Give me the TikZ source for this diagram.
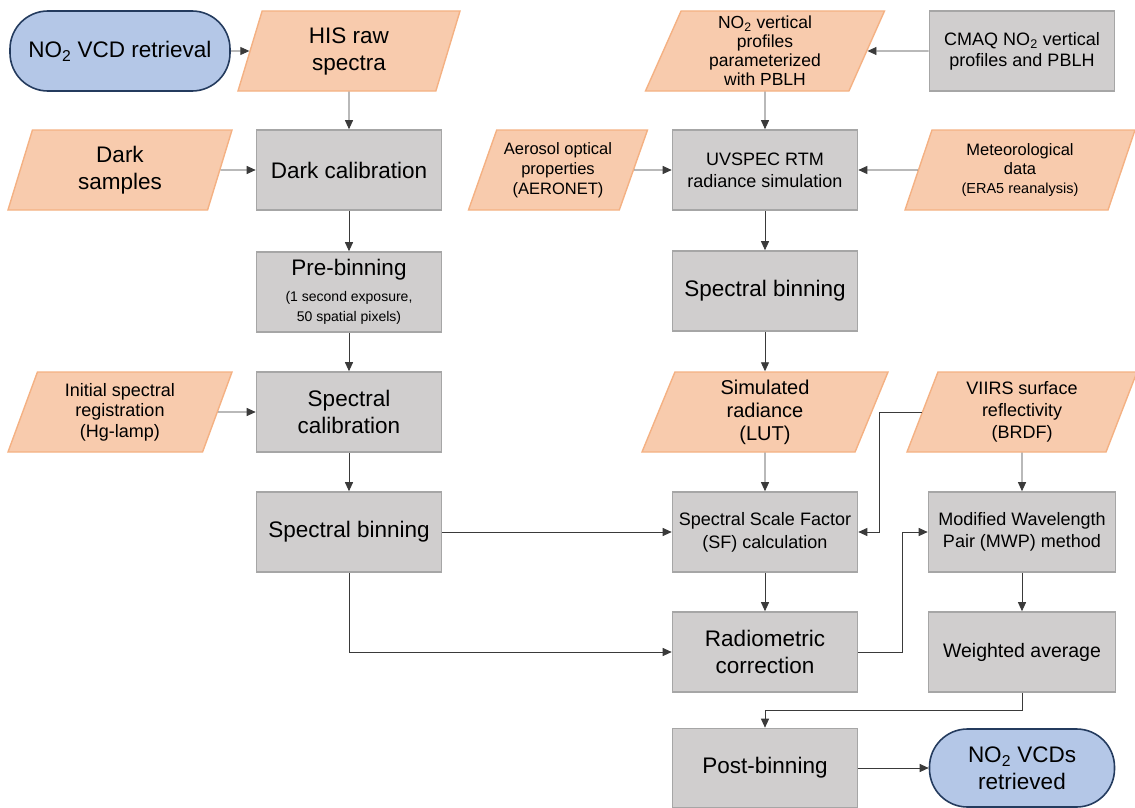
\documentclass[tikz,border=0pt]{standalone}
\usepackage{fontspec}
\setmainfont{Liberation Sans}
\usepackage{tikz}
\usetikzlibrary{shapes.geometric,arrows.meta}
\definecolor{iofill}{HTML}{F8CBAD}
\definecolor{ioline}{HTML}{F4B183}
\definecolor{boxfill}{HTML}{D0CECE}
\definecolor{boxline}{HTML}{A6A6A6}
\definecolor{termfill}{HTML}{B4C7E7}
\definecolor{termline}{HTML}{243B5E}
\definecolor{linecol}{HTML}{3A3A3A}
\newcommand{\fbig}{\fontsize{22.5}{27}\selectfont}
\newcommand{\fmid}{\fontsize{18}{22}\selectfont}

\begin{document}
\begin{tikzpicture}[x=1pt,y=-1pt,
  box/.style={rectangle, draw=boxline, fill=boxfill, line width=1.6pt, minimum width=185pt, minimum height=80pt, align=center, inner sep=2pt, font=\fbig},
  io/.style={trapezium, trapezium left angle=63, trapezium right angle=117, trapezium stretches body, draw=ioline, fill=iofill, line width=1.4pt, minimum height=80pt, align=center, inner sep=0pt, font=\fbig},
  term/.style={rectangle, rounded corners=38pt, draw=termline, fill=termfill, line width=1.6pt, minimum height=80pt, align=center, font=\fbig},
  arr/.style={-{Triangle[length=9pt,width=8pt]}, line width=0.9pt, draw=linecol}]
\useasboundingbox (0,0) rectangle (1135,808);
%LEFT
\node[term, minimum width=220pt] (start) at (120,51) {NO\textsubscript{2} VCD retrieval};
\node[io, minimum width=222pt] (his) at (349,51) {HIS raw\\spectra};
\node[box] (dark) at (349,170) {Dark calibration};
\node[io, minimum width=224pt] (darks) at (120,170) {Dark\\samples};
\node[box] (prebin) at (349,292) {Pre-binning\\[-1pt]{\fontsize{14}{17}\selectfont (1 second exposure,}\\[-7pt]{\fontsize{14}{17}\selectfont 50 spatial pixels)}};
\node[box] (speccal) at (349,412) {Spectral\\calibration};
\node[io, minimum width=224pt, font=\fontsize{18}{20.5}\selectfont] (hglamp) at (120,412) {Initial spectral\\registration\\(Hg-lamp)};
\node[box] (binl) at (349,532) {Spectral binning};
%RIGHT
\node[io, minimum width=239pt, font=\fontsize{17.5}{19}\selectfont] (prof) at (765,51) {NO\textsubscript{2} vertical\\profiles\\parameterized\\with PBLH};
\node[box, font=\fontsize{18}{21}\selectfont] (cmaq) at (1022,51) {CMAQ NO\textsubscript{2} vertical\\profiles and PBLH};
\node[box, font=\fmid] (uvspec) at (765,170) {UVSPEC RTM\\radiance simulation};
\node[io, minimum width=179pt, font=\fontsize{16.5}{20}\selectfont] (aero) at (558,170) {Aerosol optical\\properties\\(AERONET)};
\node[io, minimum width=230pt, font=\fontsize{16.5}{19}\selectfont] (meteo) at (1020,170) {Meteorological\\data\\{\fontsize{14.5}{17}\selectfont (ERA5 reanalysis)}};
\node[box] (binr) at (765,291) {Spectral binning};
\node[io, minimum width=246pt, font=\fontsize{20}{23}\selectfont] (simrad) at (765,412) {Simulated\\radiance\\(LUT)};
\node[io, minimum width=230pt, font=\fontsize{18}{22}\selectfont] (viirs) at (1022,412) {VIIRS surface\\reflectivity\\(BRDF)};
\node[box, font=\fontsize{18}{23}\selectfont] (sf) at (765,532) {Spectral Scale Factor\\(SF) calculation};
\node[box, minimum width=187pt, font=\fontsize{18}{22}\selectfont] (mwp) at (1022,532) {Modified Wavelength\\Pair (MWP) method};
\node[box] (radio) at (765,652) {Radiometric\\correction};
\node[box, minimum width=187pt, font=\fontsize{19.5}{23}\selectfont] (wavg) at (1022,652) {Weighted average};
\node[box, minimum height=79pt] (post) at (765,768) {Post-binning};
\node[term, minimum width=185pt, minimum height=78pt] (fin) at (1022,768) {NO\textsubscript{2} VCDs\\retrieved};
% Connectors
\draw[arr] (start) -- (his);
\draw[arr] (his) -- (dark);
\draw[arr] (darks) -- (dark);
\draw[arr] (dark) -- (prebin);
\draw[arr] (prebin) -- (speccal);
\draw[arr] (hglamp) -- (speccal);
\draw[arr] (speccal) -- (binl);
\draw[arr] (binl) -- (sf);
\draw[arr] (binl.south) |- (radio.west);
\draw[arr] (cmaq) -- (prof);
\draw[arr] (prof) -- (uvspec);
\draw[arr] (aero) -- (uvspec);
\draw[arr] (meteo) -- (uvspec);
\draw[arr] (uvspec) -- (binr);
\draw[arr] (binr) -- (simrad);
\draw[arr] (simrad) -- (sf);
\draw[arr] (sf) -- (radio);
\draw[arr] (viirs.west) -- ++(-42,0) |- (sf.east);
\draw[arr] (viirs) -- (mwp);
\draw[arr] (radio.east) -- ++(44,0) |- (mwp.west);
\draw[arr] (mwp) -- (wavg);
\draw[arr] (wavg.south) -- ++(0,18) -| (post.north);
\draw[arr] (post) -- (fin);
\end{tikzpicture}
\end{document}
